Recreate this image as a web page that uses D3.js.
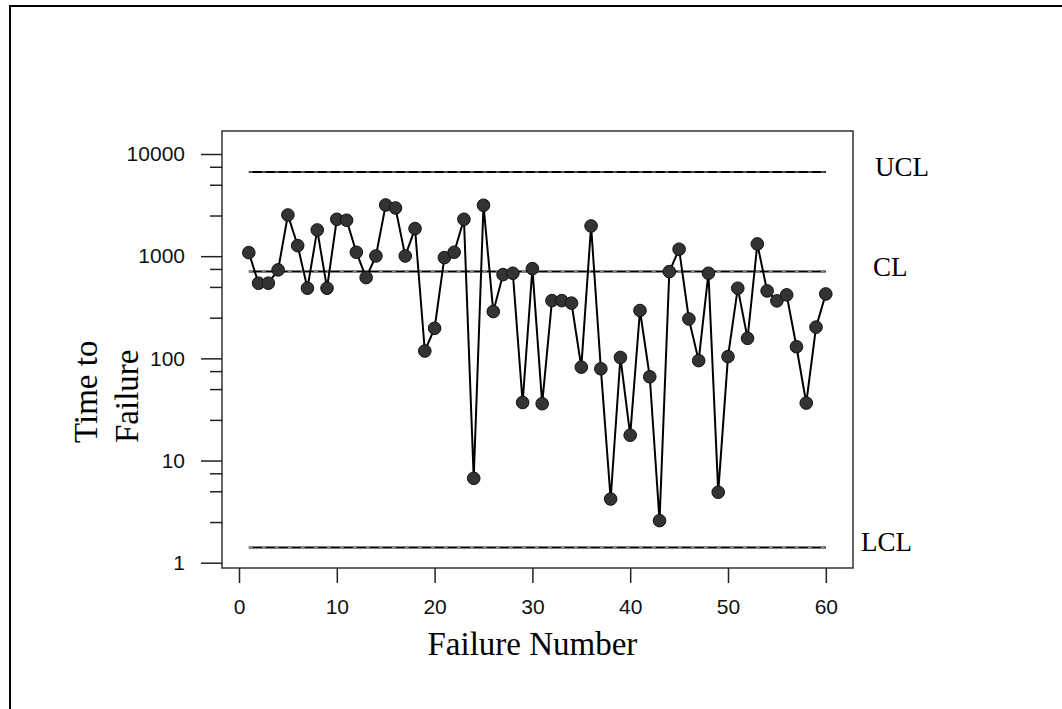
<!DOCTYPE html>
<html>
<meta charset="utf-8">
<style>
    body { margin: 0; background: #fff; }
    .tick text { font-family: "Liberation Sans", Arial, sans-serif; font-size: 21px; fill: #111; }
    .tick line { stroke: #222; stroke-width: 1.5px; }
    .title { font-family: "Liberation Serif", "Times New Roman", serif; fill: #000; }
</style>

<body>
    <script src="https://d3js.org/d3.v7.min.js"></script>
    <script>

        var failureNumber = [1, 2, 3, 4, 5, 6, 7, 8, 9, 10, 11, 12, 13, 14, 15, 16, 17, 18, 19, 20,
            21, 22, 23, 24, 25, 26, 27, 28, 29, 30, 31, 32, 33, 34, 35, 36, 37, 38, 39, 40,
            41, 42, 43, 44, 45, 46, 47, 48, 49, 50, 51, 52, 53, 54, 55, 56, 57, 58, 59, 60];
        var timeToFailure = [1083, 544, 544, 734, 2530, 1268, 486, 1806, 486, 2297,
            2249, 1093, 617, 1005, 3170, 2965, 1005, 1862, 118, 197,
            968, 1093, 2297, 6.7, 3150, 287, 660, 681, 37, 755,
            36, 367, 367, 347, 82, 1976, 79, 4.2, 102, 17.7,
            294, 66, 2.58, 706, 1170, 243, 95, 681, 4.9, 104,
            486, 157, 1318, 457, 365, 418, 130, 36.5, 202, 427];

        // control limits
        var limitNames = ["UCL", "CL", "LCL"];
        var limitValues = [6670, 706, 1.41];

        // tick labels
        var xTicks = [0, 10, 20, 30, 40, 50, 60];
        var yTicks = [1, 10, 100, 1000, 10000];
        var yMinorTicks = [2.5, 5, 7.5, 25, 50, 75, 250, 500, 750, 2500, 5000, 7500];

        var W = 1062, H = 709;
        var frame = { left: 222, top: 131, right: 853, bottom: 568 };

        var svg = d3.select("body").append("svg")
            .attr("width", W)
            .attr("height", H);

        // outer border
        svg.append("rect")
            .attr("x", 10).attr("y", 6)
            .attr("width", 1100).attr("height", 800)
            .attr("fill", "none")
            .attr("stroke", "#000")
            .attr("stroke-width", 2);

        // scales
        var x = d3.scaleLinear().domain([0, 60]).range([239, 825.8]);
        var y = d3.scaleLog().domain([1, 10000]).range([562.7, 154]);

        // plot frame
        svg.append("rect")
            .attr("x", frame.left).attr("y", frame.top)
            .attr("width", frame.right - frame.left)
            .attr("height", frame.bottom - frame.top)
            .attr("fill", "none")
            .attr("stroke", "#333")
            .attr("stroke-width", 1.5);

        // y axis, major and minor ticks
        svg.append("g")
            .attr("transform", "translate(" + frame.left + ",0)")
            .call(d3.axisLeft(y).tickValues(yTicks).tickFormat(d3.format("d"))
                .tickSize(21).tickPadding(16))
            .call(function (g) { g.select(".domain").remove(); });

        svg.append("g")
            .attr("transform", "translate(" + frame.left + ",0)")
            .call(d3.axisLeft(y).tickValues(yMinorTicks).tickFormat("").tickSize(12))
            .call(function (g) { g.select(".domain").remove(); });

        // x axis
        svg.append("g")
            .attr("transform", "translate(0," + frame.bottom + ")")
            .call(d3.axisBottom(x).tickValues(xTicks).tickSize(15).tickPadding(16))
            .call(function (g) { g.select(".domain").remove(); });

        // control limit lines (solid with faint grey breaks)
        limitValues.forEach(function (v, i) {
            svg.append("line")
                .attr("x1", x(failureNumber[0])).attr("x2", x(failureNumber[failureNumber.length - 1]))
                .attr("y1", y(v)).attr("y2", y(v))
                .attr("stroke", "#000")
                .attr("stroke-width", 2);
            svg.append("line")
                .attr("x1", x(failureNumber[0])).attr("x2", x(failureNumber[failureNumber.length - 1]))
                .attr("y1", y(v)).attr("y2", y(v))
                .attr("stroke", "#999")
                .attr("stroke-width", 1)
                .attr("stroke-dasharray", "4,9");
        });

        // limit labels
        var labelX = [875, 873, 861];
        limitNames.forEach(function (name, i) {
            svg.append("text")
                .attr("class", "title")
                .attr("x", labelX[i])
                .attr("y", y(limitValues[i]) + 4)
                .style("font-size", "27px")
                .text(name);
        });

        // the series line
        var data = failureNumber.map(function (n, i) { return { n: n, t: timeToFailure[i] }; });

        var valueline = d3.line()
            .x(function (d) { return x(d.n); })
            .y(function (d) { return y(d.t); });

        svg.append("path")
            .datum(data)
            .attr("fill", "none")
            .attr("stroke", "#000")
            .attr("stroke-width", 2)
            .attr("d", valueline);

        svg.selectAll(".pt")
            .data(data)
            .enter().append("circle")
            .attr("class", "pt")
            .attr("cx", function (d) { return x(d.n); })
            .attr("cy", function (d) { return y(d.t); })
            .attr("r", 6.3)
            .attr("fill", "#333")
            .attr("stroke", "#111")
            .attr("stroke-width", 1);

        // axis titles
        svg.append("text")
            .attr("class", "title")
            .attr("x", (x(0) + x(60)) / 2)
            .attr("y", 655)
            .attr("text-anchor", "middle")
            .style("font-size", "33px")
            .text("Failure Number");

        svg.append("text")
            .attr("class", "title")
            .attr("transform", "translate(97,443) rotate(-90)")
            .style("font-size", "33px")
            .text("Time to");

        svg.append("text")
            .attr("class", "title")
            .attr("transform", "translate(138,443) rotate(-90)")
            .style("font-size", "33px")
            .text("Failure");

    </script>
</body>
</html>
